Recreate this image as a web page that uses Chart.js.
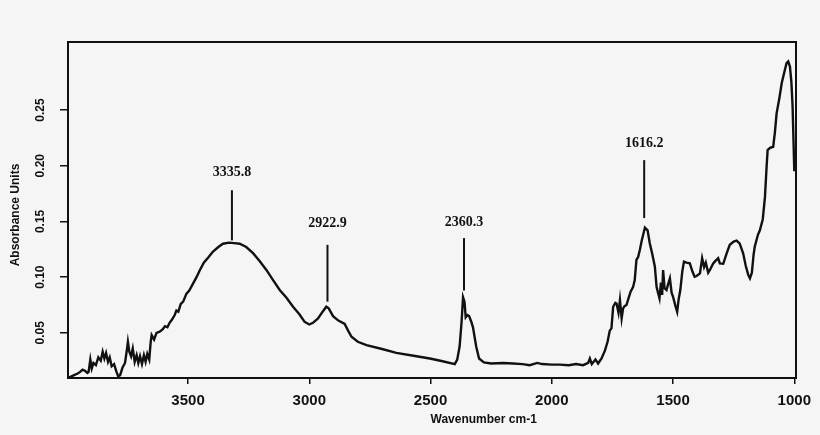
<!DOCTYPE html>
<html>
<head>
<meta charset="utf-8">
<script src="https://cdn.jsdelivr.net/npm/chart.js@4.4.1/dist/chart.umd.min.js"></script>
<style>
  html, body { margin: 0; padding: 0; background: #f5f5f5; }
  #wrap { width: 820px; height: 435px; position: relative; }
</style>
</head>
<body>
<div id="wrap"><canvas id="ftir"></canvas></div>
<script>
// ---- data ----
const wavenumbers = [
  3995, 3985, 3970, 3955, 3945, 3935, 3925, 3915, 3910, 3903, 3897, 3890, 3880, 3870, 3860, 3852,
  3845, 3838, 3830, 3823, 3815, 3805, 3795, 3788, 3780, 3770, 3760, 3752, 3748, 3742, 3735, 3728,
  3720, 3712, 3705, 3698, 3690, 3682, 3675, 3668, 3660, 3654, 3650, 3640, 3630, 3617, 3605, 3595,
  3585, 3576, 3566, 3555, 3548, 3540, 3530, 3520, 3507, 3495, 3480, 3465, 3452, 3435, 3415, 3397,
  3375, 3356, 3330, 3310, 3287, 3260, 3232, 3205, 3177, 3150, 3122, 3094, 3067, 3040, 3020, 3000,
  2985, 2964, 2945, 2930, 2920, 2902, 2880, 2854, 2840, 2826, 2800, 2764, 2700, 2641, 2570, 2503,
  2450, 2400, 2390, 2380, 2372, 2366, 2360, 2355, 2348, 2341, 2332, 2325, 2312, 2300, 2280, 2250,
  2200, 2160, 2120, 2091, 2060, 2040, 2000, 1967, 1930, 1900, 1871, 1850, 1843, 1835, 1820, 1809,
  1795, 1781, 1770, 1761, 1754, 1747, 1738, 1733, 1725, 1719, 1712, 1706, 1700, 1692, 1685, 1675,
  1665, 1658, 1651, 1644, 1637, 1630, 1616, 1605, 1596, 1585, 1575, 1568, 1562, 1556, 1550, 1545,
  1541, 1535, 1527, 1520, 1513, 1506, 1500, 1490, 1483, 1477, 1470, 1462, 1455, 1445, 1431, 1420,
  1411, 1403, 1389, 1380, 1372, 1365, 1355, 1348, 1335, 1328, 1314, 1307, 1293, 1279, 1266, 1250,
  1238, 1225, 1211, 1200, 1190, 1183, 1175, 1168, 1163, 1150, 1142, 1130, 1121, 1114, 1110, 1100,
  1087, 1080, 1073, 1062, 1052, 1040, 1032, 1025, 1018, 1012, 1007, 1003, 1000
];
const absorbance = [
  0.0100, 0.0105, 0.0120, 0.0135, 0.0150, 0.0170, 0.0160, 0.0140, 0.0150, 0.0260, 0.0180, 0.0230, 0.0210, 0.0280, 0.0250, 0.0330,
  0.0270, 0.0320, 0.0240, 0.0280, 0.0200, 0.0220, 0.0150, 0.0110, 0.0120, 0.0190, 0.0230, 0.0350, 0.0420, 0.0330, 0.0290, 0.0360,
  0.0240, 0.0300, 0.0230, 0.0290, 0.0220, 0.0300, 0.0240, 0.0310, 0.0260, 0.0420, 0.0480, 0.0440, 0.0500, 0.0510, 0.0530, 0.0560,
  0.0550, 0.0590, 0.0620, 0.0660, 0.0700, 0.0690, 0.0760, 0.0780, 0.0850, 0.0880, 0.0940, 0.1000, 0.1060, 0.1130, 0.1180, 0.1230,
  0.1270, 0.1300, 0.1310, 0.1305, 0.1300, 0.1270, 0.1215, 0.1145, 0.1065, 0.0975, 0.0885, 0.0815, 0.0735, 0.0665, 0.0600, 0.0575,
  0.0590, 0.0630, 0.0690, 0.0735, 0.0720, 0.0650, 0.0610, 0.0580, 0.0520, 0.0465, 0.0420, 0.0390, 0.0355, 0.0320, 0.0295, 0.0270,
  0.0245, 0.0220, 0.0260, 0.0380, 0.0600, 0.0820, 0.0780, 0.0640, 0.0660, 0.0650, 0.0600, 0.0550, 0.0380, 0.0270, 0.0235, 0.0225,
  0.0230, 0.0225, 0.0220, 0.0210, 0.0230, 0.0220, 0.0215, 0.0215, 0.0210, 0.0220, 0.0210, 0.0230, 0.0270, 0.0220, 0.0260, 0.0225,
  0.0270, 0.0340, 0.0420, 0.0520, 0.0540, 0.0734, 0.0770, 0.0764, 0.0680, 0.0794, 0.0630, 0.0720, 0.0740, 0.0750, 0.0800, 0.0870,
  0.0910, 0.0974, 0.1154, 0.1180, 0.1244, 0.1320, 0.1445, 0.1420, 0.1304, 0.1200, 0.1094, 0.0914, 0.0860, 0.0810, 0.0950, 0.0840,
  0.1064, 0.0900, 0.0884, 0.0940, 0.0990, 0.0860, 0.0824, 0.0740, 0.0689, 0.0800, 0.0884, 0.1050, 0.1139, 0.1130, 0.1124, 0.1050,
  0.1004, 0.1010, 0.1034, 0.1170, 0.1090, 0.1130, 0.1040, 0.1064, 0.1120, 0.1139, 0.1170, 0.1124, 0.1120, 0.1214, 0.1290, 0.1320,
  0.1327, 0.1300, 0.1214, 0.1100, 0.1020, 0.0989, 0.1040, 0.1200, 0.1274, 0.1380, 0.1420, 0.1520, 0.1720, 0.2000, 0.2140, 0.2160,
  0.2170, 0.2300, 0.2470, 0.2600, 0.2740, 0.2850, 0.2920, 0.2935, 0.2890, 0.2750, 0.2530, 0.2200, 0.1950
];
const xTicks = [3500, 3000, 2500, 2000, 1500, 1000];
const yTicks = [0.05, 0.10, 0.15, 0.20, 0.25];

// peak labels: text, wavenumber of the marker, marker bottom / top, text height (absorbance units)
const peakLabels = ['3335.8', '2922.9', '2360.3', '1616.2'];
const peakAt     = [3319, 2925, 2362, 1619];
const peakLow    = [0.133, 0.078, 0.088, 0.153];
const peakHigh   = [0.178, 0.129, 0.135, 0.205];
const peakText   = [0.194, 0.148, 0.149, 0.220];

const points = wavenumbers.map((w, i) => ({ x: w, y: absorbance[i] }));

const extras = {
  id: 'extras',
  afterDraw(chart) {
    const { ctx, chartArea: a, scales: { x, y } } = chart;
    ctx.save();
    // frame
    ctx.strokeStyle = '#111';
    ctx.lineWidth = 2;
    ctx.strokeRect(a.left, a.top, a.right - a.left, a.bottom - a.top);

    // peak markers
    ctx.lineWidth = 2;
    ctx.fillStyle = '#111';
    ctx.font = 'bold 14px "Liberation Serif", "DejaVu Serif", serif';
    ctx.textAlign = 'center';
    ctx.textBaseline = 'middle';
    peakLabels.forEach((t, i) => {
      const px = x.getPixelForValue(peakAt[i]);
      ctx.beginPath();
      ctx.moveTo(px, y.getPixelForValue(peakLow[i]));
      ctx.lineTo(px, y.getPixelForValue(peakHigh[i]));
      ctx.stroke();
      ctx.fillText(t, px, y.getPixelForValue(peakText[i]));
    });

    // rotated y tick labels
    ctx.font = 'bold 12px "Liberation Sans", Arial, sans-serif';
    y.ticks.forEach(t => {
      ctx.save();
      ctx.translate(41, y.getPixelForValue(t.value));
      ctx.rotate(-Math.PI / 2);
      ctx.fillText(t.label, 0, 0);
      ctx.restore();
    });

    // axis titles
    ctx.fillText('Wavenumber cm-1', a.left + (a.right - a.left) * 0.571, 420);
    ctx.save();
    ctx.translate(16, 215);
    ctx.rotate(-Math.PI / 2);
    ctx.fillText('Absorbance Units', 0, 0);
    ctx.restore();
    ctx.restore();
  }
};

new Chart(document.getElementById('ftir'), {
  type: 'line',
  data: {
    datasets: [{
      data: points,
      borderColor: '#111',
      borderWidth: 2.4,
      pointRadius: 0,
      tension: 0,
      fill: false
    }]
  },
  options: {
    responsive: true,
    maintainAspectRatio: false,
    animation: false,
    layout: { padding: { top: 42, right: 24, bottom: 0, left: 0 } },
    plugins: { legend: { display: false }, tooltip: { enabled: false } },
    scales: {
      x: {
        type: 'linear',
        reverse: true,
        min: 993,
        max: 3995,
        afterBuildTicks: s => { s.ticks = xTicks.map(v => ({ value: v })); },
        afterFit: s => { s.height = 57; },
        grid: { display: true, drawOnChartArea: false, drawTicks: true, tickLength: 6, color: '#111', lineWidth: 1.5 },
        border: { display: true, color: '#111', width: 2 },
        ticks: {
          color: '#111',
          padding: 8,
          maxRotation: 0,
          font: { family: '"Liberation Sans", Arial, sans-serif', size: 15, weight: 'bold' },
          callback: v => String(v)
        }
      },
      y: {
        min: 0.0095,
        max: 0.311,
        afterBuildTicks: s => { s.ticks = yTicks.map(v => ({ value: v })); },
        afterFit: s => { s.width = 68; },
        grid: { display: true, drawOnChartArea: false, drawTicks: true, tickLength: 8, color: '#111', lineWidth: 1.5 },
        border: { display: true, color: '#111', width: 2 },
        ticks: { display: false, callback: v => v.toFixed(2) }
      }
    }
  },
  plugins: [extras]
});
</script>
</body>
</html>
